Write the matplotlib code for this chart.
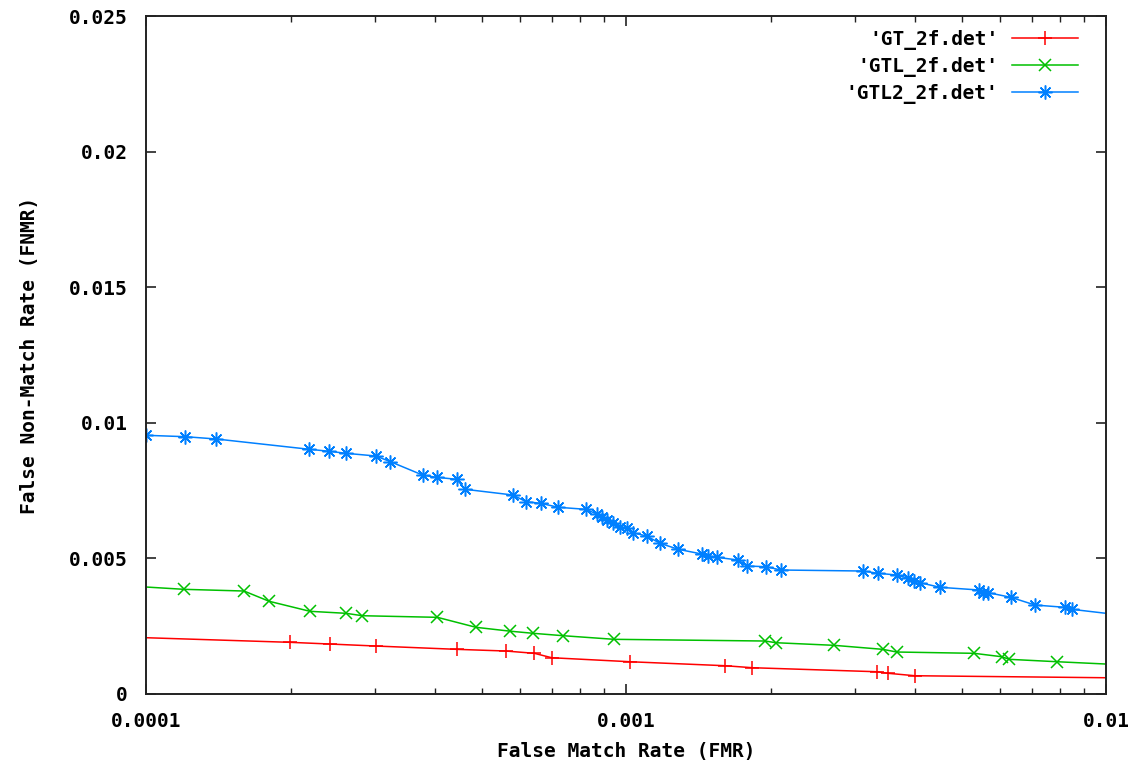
import matplotlib
matplotlib.use("Agg")
import matplotlib.pyplot as plt
from matplotlib.ticker import FixedLocator, FixedFormatter, LogLocator, NullFormatter

# 'GT_2f.det' (first and last point are line ends without a marker)
gt_fmr = [1.0e-4, 1.995e-4, 2.416e-4, 3.014e-4, 4.439e-4, 5.617e-4, 6.442e-4,
          7.000e-4, 1.019e-3, 1.608e-3, 1.833e-3, 3.329e-3, 3.520e-3, 4.000e-3, 1.0e-2]
gt_fnmr = [0.002061, 0.001891, 0.001828, 0.001754, 0.001632, 0.001570, 0.001485,
           0.001322, 0.001174, 0.001027, 0.000953, 0.000805, 0.000746, 0.000657, 0.000583]

# 'GTL_2f.det'
gtl_fmr = [1.0e-4, 1.200e-4, 1.600e-4, 1.806e-4, 2.196e-4, 2.610e-4, 2.822e-4,
           4.045e-4, 4.870e-4, 5.745e-4, 6.411e-4, 7.402e-4, 9.441e-4, 1.948e-3,
           2.053e-3, 2.712e-3, 3.426e-3, 3.664e-3, 5.309e-3, 6.063e-3, 6.288e-3,
           7.916e-3, 1.0e-2]
gtl_fnmr = [0.003933, 0.003848, 0.003785, 0.003405, 0.003036, 0.002962, 0.002873,
            0.002814, 0.002445, 0.002301, 0.002223, 0.002135, 0.002002, 0.001939,
            0.001876, 0.001780, 0.001632, 0.001533, 0.001485, 0.001359, 0.001263,
            0.001174, 0.001089]

# 'GTL2_2f.det' (first point has a marker, last one is the line end)
gtl2_fmr = [1.0e-4, 1.206e-4, 1.40e-4, 2.19e-4, 2.41e-4, 2.61e-4, 3.01e-4, 3.23e-4,
            3.78e-4, 4.03e-4, 4.44e-4, 4.62e-4, 5.81e-4, 6.19e-4, 6.64e-4, 7.23e-4,
            8.25e-4, 8.69e-4, 8.90e-4, 9.12e-4, 9.41e-4, 9.72e-4, 1.003e-3, 1.033e-3,
            1.104e-3, 1.177e-3, 1.285e-3, 1.438e-3, 1.484e-3, 1.545e-3, 1.714e-3,
            1.784e-3, 1.957e-3, 2.101e-3, 3.112e-3, 3.354e-3, 3.664e-3, 3.873e-3,
            3.986e-3, 4.097e-3, 4.510e-3, 5.445e-3, 5.551e-3, 5.685e-3, 6.331e-3,
            7.113e-3, 8.214e-3, 8.481e-3, 1.0e-2]
gtl2_fnmr = [0.009535, 0.009484, 0.009399, 0.009018, 0.008944, 0.008870, 0.008771,
             0.008560, 0.008058, 0.007984, 0.007910, 0.007541, 0.007331, 0.007083,
             0.007024, 0.006876, 0.006802, 0.006629, 0.006529, 0.006407, 0.006286,
             0.006160, 0.006101, 0.005938, 0.005816, 0.005547, 0.005325, 0.005152,
             0.005078, 0.005030, 0.004930, 0.004709, 0.004683, 0.004561, 0.004524,
             0.004439, 0.004376, 0.004254, 0.004166, 0.004092, 0.003922, 0.003822,
             0.003723, 0.003723, 0.003553, 0.003268, 0.003183, 0.003110, 0.002962]

y_ticks = [0, 0.005, 0.01, 0.015, 0.02, 0.025]
y_labels = ["0", "0.005", "0.01", "0.015", "0.02", "0.025"]
x_ticks = [1e-4, 1e-3, 1e-2]
x_labels = ["0.0001", "0.001", "0.01"]

plt.rcParams['font.family'] = ['DejaVu Sans Mono']
plt.rcParams['font.weight'] = 'bold'

fig = plt.figure(figsize=(11.47, 7.73), dpi=100)
ax = fig.add_axes([0.1273, 0.1028, 0.837, 0.8759])

ax.plot(gt_fmr, gt_fnmr, color='#ff0000', lw=1.1, marker='+', ms=10, mew=1.1,
        markevery=list(range(1, len(gt_fmr) - 1)), label="'GT_2f.det'")
ax.plot(gtl_fmr, gtl_fnmr, color='#00c000', lw=1.1, marker='x', ms=8, mew=1.1,
        markevery=list(range(1, len(gtl_fmr) - 1)), label="'GTL_2f.det'")
ax.plot(gtl2_fmr, gtl2_fnmr, color='#0080ff', lw=1.1, marker=(8, 2, 0), ms=10, mew=1.1,
        markevery=list(range(0, len(gtl2_fmr) - 1)), label="'GTL2_2f.det'")

ax.set_xscale('log')
ax.set_xlim(1e-4, 1e-2)
ax.set_ylim(0, 0.025)

ax.xaxis.set_major_locator(FixedLocator(x_ticks))
ax.xaxis.set_major_formatter(FixedFormatter(x_labels))
ax.xaxis.set_minor_locator(LogLocator(base=10, subs=range(2, 10)))
ax.xaxis.set_minor_formatter(NullFormatter())
ax.yaxis.set_major_locator(FixedLocator(y_ticks))
ax.yaxis.set_major_formatter(FixedFormatter(y_labels))

ax.tick_params(which='both', direction='in', top=True, right=True, color='#222222')
ax.tick_params(which='major', length=7, width=1.2, labelsize=14)
ax.tick_params(which='minor', length=4, width=1.0)
ax.tick_params(axis='x', pad=13)
ax.tick_params(axis='y', pad=13)
for s in ax.spines.values():
    s.set_linewidth(1.4)
    s.set_color('#222222')

ax.set_xlabel("False Match Rate (FMR)", fontsize=14, fontweight='bold', labelpad=8)
ax.set_ylabel("False Non-Match Rate (FNMR)", fontsize=14, fontweight='bold', labelpad=22)

leg = ax.legend(loc='upper right', frameon=False, markerfirst=False, numpoints=1,
                fontsize=14, handlelength=3.4, handletextpad=0.7, labelspacing=0.35,
                borderaxespad=0.3, bbox_to_anchor=(0.985, 1.0))

fig.savefig('out.png', dpi=100)
